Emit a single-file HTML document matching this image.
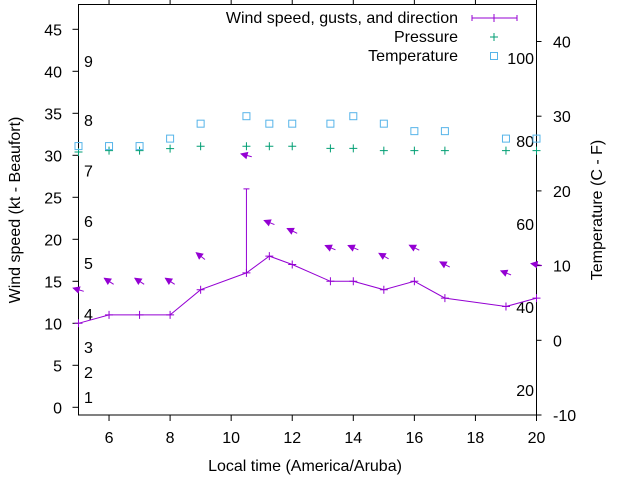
<!DOCTYPE html>
<html><head><meta charset="utf-8"><style>
body{margin:0;background:#fff}
svg{font-family:"Liberation Sans",sans-serif;font-size:16px}
</style></head><body>
<svg id="chart" width="640" height="480" viewBox="0 0 640 480" xmlns="http://www.w3.org/2000/svg">
<g id="axes"></g>
<g id="marks"></g>
<g id="legend"></g>
</svg>
<script>
const hours = [5,6,7,8,9,10.5,11.25,12,13.25,14,15,16,17,19,20];
const windKt = [10,11,11,11,14,16,18,17,15,15,14,15,13,12,13];
const gustKt = [null,null,null,null,null,26,null,null,null,null,null,null,null,null,null];
const windDirDeg = [107,123,123,123,128,105,112,116,113,113,120,117,118,112,100];
const pressureVals = [30.4,30.55,30.55,30.8,31.07,31.07,31.07,31.07,30.83,30.83,30.55,30.55,30.55,30.55,30.55];
const tempC = [26,26,26,27,29,30,29,29,29,30,29,28,28,27,27];
const xTicks = [6,8,10,12,14,16,18,20];
const yTicks = [0,5,10,15,20,25,30,35,40,45];
const y2Ticks = [-10,0,10,20,30,40];
const beaufortLabels = ["1","2","3","4","5","6","7","8","9"];
const beaufortAt = [1.2,4.2,7.2,11.1,17.2,22.2,28.2,34.2,41.2];
const fahrenheitLabels = [20,40,60,80,100];

const L=78.5,R=536.5,T=4.5,B=415;
const X=h=>L+(h-5)/15*(R-L);
const Y=v=>407.3-v*8.4;
const Y2=c=>415-(c+10)*7.47;
const NS="http://www.w3.org/2000/svg";
function mk(tag,attrs,parent,text){const e=document.createElementNS(NS,tag);for(const k in attrs)e.setAttribute(k,attrs[k]);if(text!==undefined)e.textContent=text;parent.appendChild(e);return e;}
const ax=document.getElementById('axes'),mg=document.getElementById('marks'),lg=document.getElementById('legend');
const WC="#9400d3",PC="#009e73",TC="#56b4e9";

let e=mk('rect',{x:L,y:T,width:R-L,height:B-T,fill:'none',stroke:'#000','stroke-width':1},ax);


xTicks.forEach(t=>{
  e=mk('line',{x1:X(t),x2:X(t),y1:B,y2:B+6,stroke:'#000'},ax);
  
  
  mk('line',{x1:X(t),x2:X(t),y1:T,y2:T-6,stroke:'#000'},ax);
  e=mk('text',{x:X(t),y:443,'text-anchor':'middle'},ax,String(t));
  
  
});
yTicks.forEach(t=>{
  mk('line',{x1:L-6,x2:L,y1:Y(t),y2:Y(t),stroke:'#000'},ax);
  e=mk('text',{x:62,y:Y(t)+6,'text-anchor':'end'},ax,String(t));
  
  
});
y2Ticks.forEach(t=>{
  mk('line',{x1:R,x2:R+5,y1:Y2(t),y2:Y2(t),stroke:'#000'},ax);
  e=mk('text',{x:553,y:Y2(t)+6,'text-anchor':'start'},ax,String(t));
  
  
});
beaufortLabels.forEach((b,i)=>{
  e=mk('text',{x:84,y:Y(beaufortAt[i])+6},ax,b);
  
  
});
fahrenheitLabels.forEach(f=>{
  e=mk('text',{x:534,y:Y2((f-32)*5/9)+6,'text-anchor':'end'},ax,String(f));
  
  
});
e=mk('text',{x:305,y:471,'text-anchor':'middle'},ax,'Local time (America/Aruba)');


e=mk('text',{x:0,y:0,'text-anchor':'middle',transform:'translate(20,210) rotate(-90)'},ax,'Wind speed (kt - Beaufort)');


e=mk('text',{x:0,y:0,'text-anchor':'middle',transform:'translate(602,210) rotate(-90)'},ax,'Temperature (C - F)');



// wind line
e=mk('polyline',{points:hours.map((h,i)=>X(h)+','+Y(windKt[i])).join(' '),fill:'none',stroke:WC,'stroke-width':1},mg);


hours.forEach((h,i)=>{
  const x=X(h),y=Y(windKt[i]);
  e=mk('path',{d:`M${x-4},${y}H${x+4}M${x},${y-4}V${y+4}`,stroke:WC},mg);
  
  
  if(gustKt[i]!=null){
    const yg=Y(gustKt[i]);
    e=mk('path',{d:`M${x},${y}V${yg}M${x-3},${yg}H${x+3}`,stroke:WC},mg);
    
    
  }
  const base=gustKt[i]!=null?gustKt[i]:windKt[i];
  const cy=Y(base+4);
  const a=(windDirDeg[i]-90)*Math.PI/180; // angle above horizontal, pointing left
  const len=11,dx=Math.cos(a)*len/2,dy=Math.sin(a)*len/2;
  const hx=x-dx,hy=cy-dy,tx=x+dx,ty=cy+dy;
  const ux=(hx-tx)/len,uy=(hy-ty)/len;
  const bx=hx-ux*6,by=hy-uy*6;
  e=mk('line',{x1:tx,y1:ty,x2:hx,y2:hy,stroke:WC},mg);
  
  
  mk('polygon',{points:`${hx},${hy} ${bx-uy*3},${by+ux*3} ${bx+uy*3},${by-ux*3}`,fill:WC,stroke:WC},mg);
});
hours.forEach((h,i)=>{
  const x=X(h),y=Y(pressureVals[i]);
  e=mk('path',{d:`M${x-4},${y}H${x+4}M${x},${y-4}V${y+4}`,stroke:PC},mg);
  
  
});
hours.forEach((h,i)=>{
  const x=X(h),y=Y2(tempC[i]);
  e=mk('rect',{x:x-3.5,y:y-3.5,width:7,height:7,fill:'none',stroke:TC},mg);
  
  
});

// legend
e=mk('text',{x:458,y:23,'text-anchor':'end'},lg,'Wind speed, gusts, and direction');


e=mk('path',{d:'M472,18H517M472,15V21M517,15V21M494,14V22',stroke:WC},lg);


e=mk('text',{x:458,y:42,'text-anchor':'end'},lg,'Pressure');


e=mk('path',{d:'M490,37H498M494,33V41',stroke:PC},lg);


e=mk('text',{x:458,y:61,'text-anchor':'end'},lg,'Temperature');


e=mk('rect',{x:490.5,y:52.5,width:7,height:7,fill:'none',stroke:TC},lg);


</script>
</body></html>
